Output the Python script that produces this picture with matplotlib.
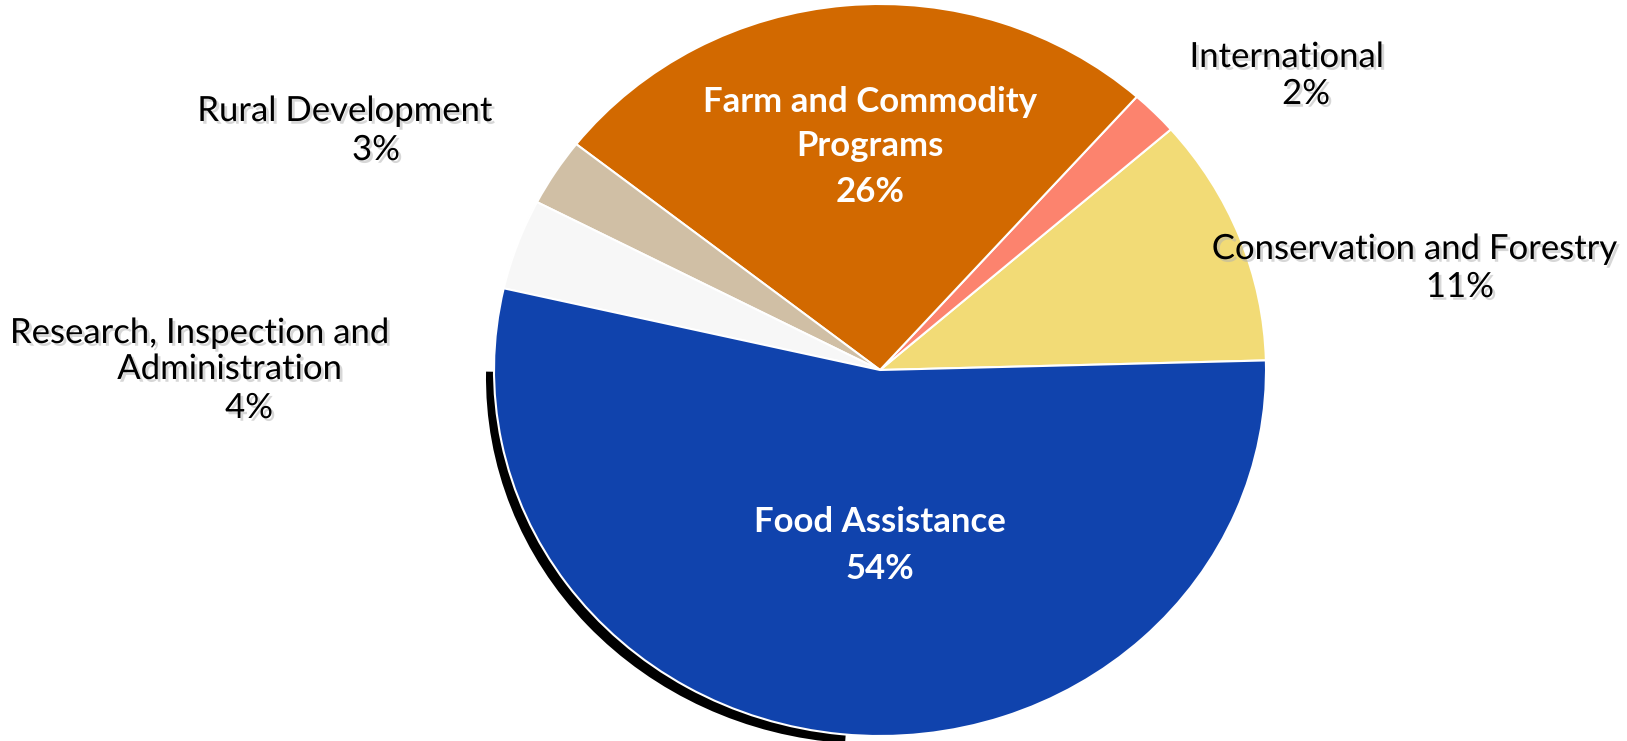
import matplotlib
matplotlib.use("Agg")
import matplotlib.pyplot as plt
from matplotlib.patches import Wedge
import matplotlib.patheffects as pe

# budget shares, counter-clockwise from the right-hand edge
categories = ["Conservation and Forestry", "International", "Farm and Commodity Programs",
              "Rural Development", "Research, Inspection and Administration", "Food Assistance"]
shares = [11, 2, 26, 3, 4, 54]
colors = ["#F2DB76", "#FC836E", "#D26900", "#D0BFA5", "#F7F7F7", "#1043AD"]

# label lines as they are broken on the slide
label_lines = {
    "Conservation and Forestry": ["Conservation and Forestry"],
    "International": ["International"],
    "Farm and Commodity Programs": ["Farm and Commodity", "Programs"],
    "Rural Development": ["Rural Development"],
    "Research, Inspection and Administration": ["Research, Inspection and", "Administration"],
    "Food Assistance": ["Food Assistance"],
}
inside = {"Farm and Commodity Programs", "Food Assistance"}

W, H = 1627, 741
CX, CY = 880, 370       # pie centre in pixels (from top-left)
RX, RY = 386, 366       # pie radii in pixels

fig = plt.figure(figsize=(W / 100, H / 100), dpi=100)
ax = fig.add_axes([0, 0, 1, 1])

# drop shadow on the lower-left rim
shadow = Wedge((-8 / RX, -8 / RY), 1.0, 179, 266, facecolor="black", edgecolor="none", zorder=0)
ax.add_patch(shadow)

ax.pie(shares, colors=colors, startangle=1.5, counterclock=True, radius=1.0,
       wedgeprops=dict(edgecolor="white", linewidth=1.5, zorder=1))
ax.set_xlim(-CX / RX, (W - CX) / RX)
ax.set_ylim(-(H - CY) / RY, CY / RY)
ax.set_aspect("auto")
ax.axis("off")

font = "Lato"
shadow_fx = [pe.SimplePatchShadow(offset=(2, -2), shadow_rgbFace="#b0b0b0", alpha=0.5), pe.Normal()]

# text line centres in pixels: one entry per line, last one is the percent
text_pos = {
    "Conservation and Forestry": [(1415, 249), (1460, 287)],
    "International": [(1287, 57), (1306, 94)],
    "Farm and Commodity Programs": [(870, 102), (870, 146), (870, 192)],
    "Rural Development": [(345, 111), (376, 150)],
    "Research, Inspection and Administration": [(200, 333), (230, 369), (249, 408)],
    "Food Assistance": [(880, 522), (880, 569)],
}

for cat, val in zip(categories, shares):
    lines = label_lines[cat] + [f"{val}%"]
    for txt, (px, py) in zip(lines, text_pos[cat]):
        if cat in inside:
            fig.text(px / W, 1 - py / H, txt, ha="center", va="center", color="white",
                     fontsize=25, fontweight="bold", family=font)
        else:
            fig.text(px / W, 1 - py / H, txt, ha="center", va="center", color="black",
                     fontsize=25, family=font, path_effects=shadow_fx)

fig.savefig("out.png", dpi=100)
